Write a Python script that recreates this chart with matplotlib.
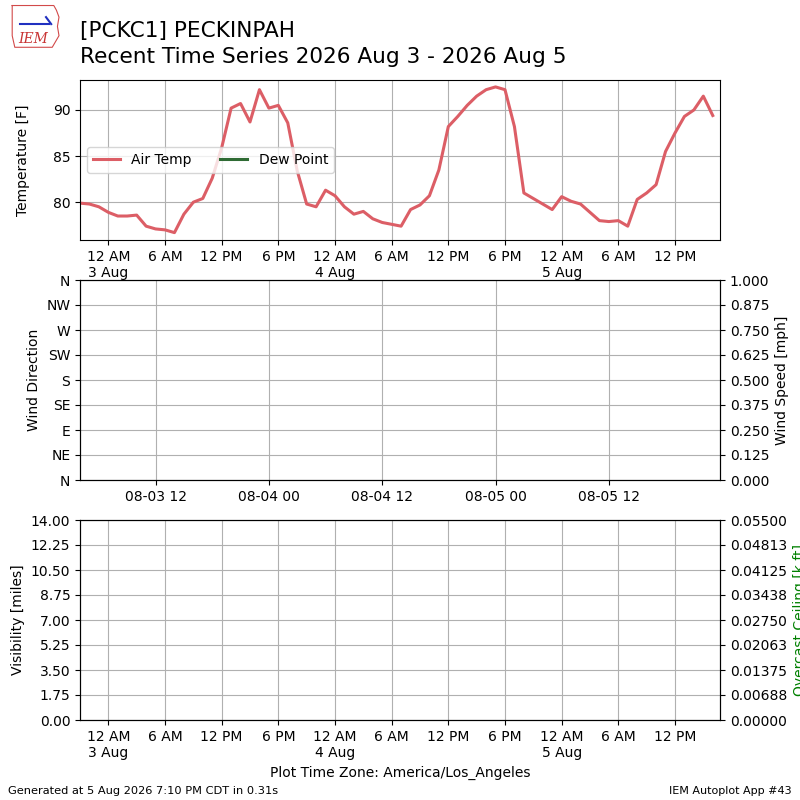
import numpy as np
import pandas as pd
import matplotlib
matplotlib.use("Agg")
import matplotlib.pyplot as plt
import matplotlib.dates as mdates
from matplotlib.ticker import FuncFormatter

# hourly air temps [F], local time (America/Los_Angeles), starting 2 Aug 21:00
start_time = "2026-08-02 21:00"
air_temp = [79.9, 79.8, 79.5, 78.9, 78.5, 78.5, 78.6, 77.4, 77.1, 77.0,
            76.7, 78.7, 80.0, 80.4, 82.6, 85.9, 90.2, 90.7, 88.7, 92.2,
            90.2, 90.5, 88.6, 83.4, 79.8, 79.5, 81.3, 80.7, 79.5, 78.7,
            79.0, 78.2, 77.8, 77.6, 77.4, 79.2, 79.7, 80.7, 83.5, 88.2,
            89.3, 90.5, 91.5, 92.2, 92.5, 92.2, 88.2, 81.0, 80.4, 79.8,
            79.2, 80.6, 80.1, 79.8, 78.9, 78.0, 77.9, 78.0, 77.4, 80.3,
            81.0, 81.9, 85.5, 87.5, 89.3, 90.0, 91.5, 89.4]
dew_point = []  # no dew point obs

dir_labels = ["N", "NE", "E", "SE", "S", "SW", "W", "NW", "N"]
dir_ticks = [0, 45, 90, 135, 180, 225, 270, 315, 360]
vis_ticks = [0, 1.75, 3.5, 5.25, 7.0, 8.75, 10.5, 12.25, 14.0]

tz = "America/Los_Angeles"
times = pd.date_range(start_time, periods=len(air_temp), freq="h", tz=tz)
x0 = times[0].to_pydatetime()
x1 = (times[-1] + pd.Timedelta(minutes=46)).to_pydatetime()

local_tz = times.tz


def local_fmt(x, pos=None):
    d = mdates.num2date(x, tz=local_tz)
    h = d.hour
    if h == 0:
        return "12 AM\n%d %s" % (d.day, d.strftime("%b"))
    if h == 12:
        return "12 PM"
    return "%d %s" % (h % 12, "AM" if h < 12 else "PM")


fig = plt.figure(figsize=(8, 8), dpi=100)

# --- temperature panel
ax1 = fig.add_axes([0.1, 0.7, 0.8, 0.2])
ax1.plot(times, air_temp, color="#dc5e66", lw=2.2, label="Air Temp")
ax1.plot([], [], color="#2f6b34", lw=2.2, label="Dew Point")
ax1.set_ylim(75.9, 93.25)
ax1.set_yticks([80, 85, 90])
ax1.set_ylabel("Temperature [F]", labelpad=16)
ax1.grid(True)
ax1.legend(loc="center left", ncol=2)

# --- wind panel
ax2 = fig.add_axes([0.1, 0.4, 0.8, 0.25])
ax2.set_ylim(0, 360)
ax2.set_yticks(dir_ticks)
ax2.set_yticklabels(dir_labels)
ax2.set_ylabel("Wind Direction")
ax2.grid(True)
ax2b = ax2.twinx()
ax2b.set_ylim(0, 1)
ax2b.set_yticks(np.linspace(0, 1, 9))
ax2b.yaxis.set_major_formatter(FuncFormatter(lambda v, p: "%.3f" % v))
ax2b.set_ylabel("Wind Speed [mph]")
ax2.xaxis.set_major_locator(mdates.HourLocator(byhour=[0, 12], tz="UTC"))
ax2.xaxis.set_major_formatter(mdates.DateFormatter("%m-%d %H", tz="UTC"))

# --- visibility panel
ax3 = fig.add_axes([0.1, 0.1, 0.8, 0.25])
ax3.set_ylim(0, 14)
ax3.set_yticks(vis_ticks)
ax3.yaxis.set_major_formatter(FuncFormatter(lambda v, p: "%.2f" % v))
ax3.set_ylabel("Visibility [miles]")
ax3.grid(True)
ax3b = ax3.twinx()
ax3b.set_ylim(0, 0.055)
ax3b.set_yticks(np.linspace(0, 0.055, 9))
ax3b.yaxis.set_major_formatter(FuncFormatter(lambda v, p: "%.5f" % v))
ax3b.set_ylabel("Overcast Ceiling [k ft]", color="green")
ax3.set_xlabel("Plot Time Zone: America/Los_Angeles")

for ax in (ax1, ax3):
    ax.xaxis.set_major_locator(mdates.HourLocator(byhour=[0, 6, 12, 18], tz=local_tz))
    ax.xaxis.set_major_formatter(FuncFormatter(local_fmt))
for ax in (ax1, ax2, ax3):
    ax.set_xlim(x0, x1)

# titles / footer
fig.text(0.1, 0.974, "[PCKC1] PECKINPAH\nRecent Time Series 2026 Aug 3 - 2026 Aug 5",
         fontsize=15.6, va="top", ha="left", linespacing=1.38)
fig.text(0.01, 0.008, "Generated at 5 Aug 2026 7:10 PM CDT in 0.31s", fontsize=8.2)
fig.text(0.99, 0.008, "IEM Autoplot App #43", fontsize=8, ha="right")

# rough IEM logo
lax = fig.add_axes([0.012, 0.938, 0.065, 0.058])
lax.axis("off")
lax.set_xlim(0, 1)
lax.set_ylim(0, 1)
lax.plot([0.05, 0.85, 0.9, 0.95, 0.92, 0.95, 0.82, 0.1, 0.05, 0.05],
         [0.95, 0.95, 0.85, 0.7, 0.5, 0.3, 0.05, 0.05, 0.3, 0.95],
         color="#d24a4a", lw=0.8)
lax.plot([0.2, 0.75], [0.55, 0.55], color="#2030c0", lw=1.5)
lax.plot([0.7, 0.8], [0.7, 0.55], color="#2030c0", lw=1.5)
lax.text(0.45, 0.08, "IEM", color="#c83232", fontsize=10, style="italic",
         family="DejaVu Serif", ha="center", va="bottom")

fig.savefig("out.png", dpi=100)
